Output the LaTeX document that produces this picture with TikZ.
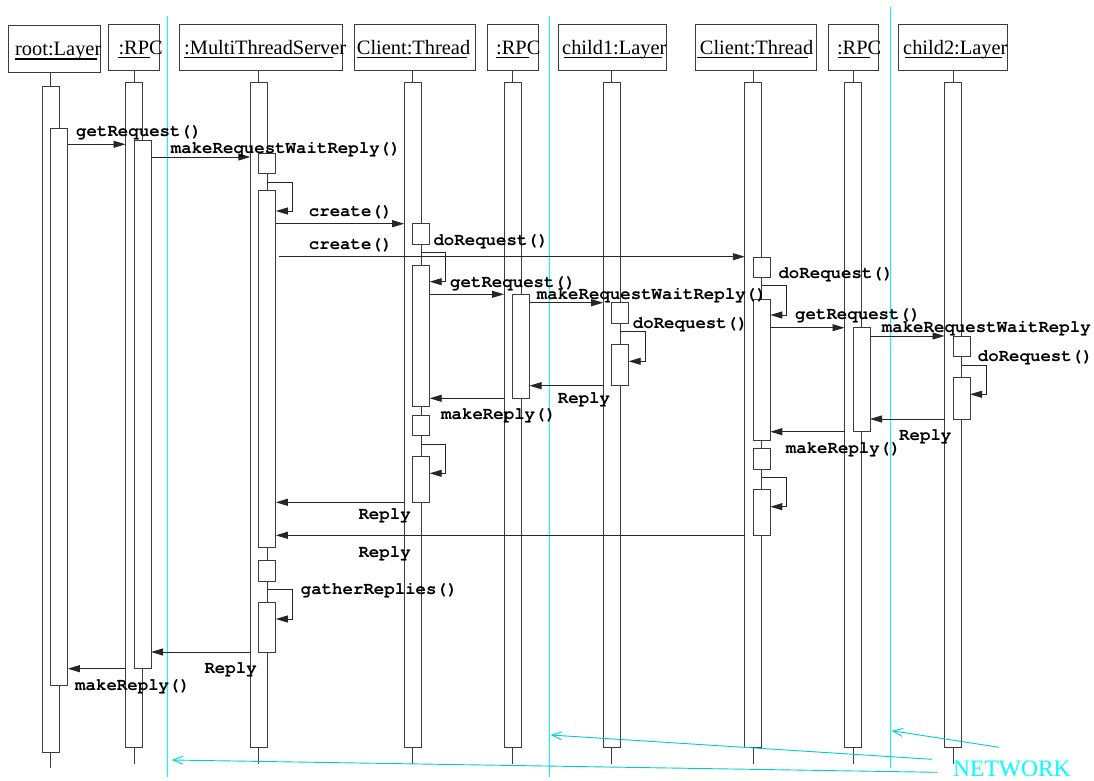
\documentclass[tikz,border=0pt]{standalone}
\usepackage{fontspec}
\setmainfont{Liberation Serif}
\newfontfamily\lblmono{TeX Gyre Cursor}
\usetikzlibrary{arrows.meta}
\definecolor{lnc}{RGB}{60,60,60}
\definecolor{cyanl}{RGB}{0,255,255}
\definecolor{netc}{RGB}{0,205,205}
\newcommand\mkbar[4]{\node[bar, minimum height={#4-#3}] (#1) at (#2,{(#3+#4)/2}) {};}
\newcommand\mkhdr[5]{\node[hdr, minimum width={#4-#2}, minimum height={#5-#3}] (#1) at (#2,#3) {};}
\begin{document}
\begin{tikzpicture}[x=1pt,y=-1pt,
  hdr/.style={draw=lnc, line width=0.9pt, inner sep=0, outer sep=0, anchor=north west},
  hdrtxt/.style={anchor=base west, inner sep=0, font=\fontsize{20.4}{24}\selectfont},
  bar/.style={draw=lnc, line width=0.9pt, fill=white, inner sep=0, outer sep=0, minimum width=17pt},
  lbl/.style={anchor=base west, inner sep=0, font=\lblmono\bfseries\fontsize{17.4}{20}\selectfont},
  msg/.style={draw=black!85, line width=0.9pt, -{Triangle[length=12pt,width=7pt]}},
  stem/.style={draw=lnc, line width=0.9pt},
  uline/.style={draw=black, line width=1.1pt},
  netline/.style={draw=cyanl, line width=1.5pt},
  netarrow/.style={draw=netc, line width=0.9pt, -{Straight Barb[length=10pt,width=8pt]}},
]
\useasboundingbox (0,0) rectangle (1094,781);

% network separators
\draw[netline] (167.3,16) -- (167.3,777);
\draw[netline] (549.5,16) -- (549.5,777);
\draw[netline] (890.5,7.3) -- (890.5,768);

% headers
\mkhdr{rootH}{8.7}{25}{100.7}{72.7}
\mkhdr{rpc1H}{108.7}{24}{159}{70}
\mkhdr{mtsH}{179.3}{24}{342}{70}
\mkhdr{cl1H}{354}{24}{475.3}{70}
\mkhdr{rpc2H}{487.4}{24}{538}{70}
\mkhdr{ch1H}{558}{24}{666.5}{70}
\mkhdr{cl2H}{695.5}{24}{816}{70}
\mkhdr{rpc3H}{828.3}{24}{878.5}{70}
\mkhdr{ch2H}{898.7}{24}{1007.5}{70}

\node[hdrtxt] (rootT) at (15,56) {root:Layer};
\node[hdrtxt] (rpc1T) at (118.3,54.5) {:RPC};
\node[hdrtxt] (mtsT) at (184,54.5) {:MultiThreadServer};
\node[hdrtxt] (cl1T) at (356.7,54.5) {Client:Thread};
\node[hdrtxt] (rpc2T) at (496,54.5) {:RPC};
\node[hdrtxt] (ch1T) at (562,54.5) {child1:Layer};
\node[hdrtxt] (cl2T) at (699.7,54.5) {Client:Thread};
\node[hdrtxt] (rpc3T) at (836.8,54.5) {:RPC};
\node[hdrtxt] (ch2T) at (903,54.5) {child2:Layer};

\draw[uline] (15,59) -- (96.7,59);
\draw[uline] (118.3,57.5) -- (150,57.5);
\draw[uline] (184,57.5) -- (333,57.5);
\draw[uline] (356.7,57.5) -- (466.7,57.5);
\draw[uline] (496,57.5) -- (528.8,57.5);
\draw[uline] (564,57.5) -- (662,57.5);
\draw[uline] (697,57.5) -- (807.5,57.5);
\draw[uline] (838,57.5) -- (869.7,57.5);
\draw[uline] (905,57.5) -- (1002,57.5);

% lifelines
\mkbar{rootO}{50.8}{86.7}{752}
\mkbar{rpc1O}{134}{82.3}{747.7}
\mkbar{mtsO}{258.8}{82.3}{747.7}
\mkbar{cl1O}{412.7}{82.3}{747.7}
\mkbar{rpc2O}{512.5}{82.3}{747.7}
\mkbar{ch1O}{611.7}{82.3}{747.7}
\mkbar{cl2O}{753.3}{82.3}{747.7}
\mkbar{rpc3O}{853}{82.3}{747.7}
\mkbar{ch2O}{953}{82.3}{747.7}

\foreach \o/\h in {rootO/rootH,rpc1O/rpc1H,mtsO/mtsH,cl1O/cl1H,rpc2O/rpc2H,ch1O/ch1H,cl2O/cl2H,rpc3O/rpc3H,ch2O/ch2H}{
  \draw[stem] (\o.north) -- (\o.north |- \h.south);
  \draw[stem] (\o.south) -- ++(0,16.3);
}

% activations
\mkbar{rootA}{59.3}{128}{685.3}
\mkbar{rpc1A}{142.5}{140.3}{668.7}
\mkbar{mtsS1}{267.3}{153.3}{173.3}
\mkbar{mtsA1}{267.3}{190.3}{547.7}
\mkbar{mtsS2}{267.3}{560.3}{581.3}
\mkbar{mtsA2}{267.3}{602.3}{652}
\mkbar{cl1S1}{421.2}{223.3}{244.3}
\mkbar{cl1A1}{421.2}{265.7}{406}
\mkbar{cl1S2}{421.2}{415}{435.7}
\mkbar{cl1A2}{421.2}{456.3}{502.3}
\mkbar{rpc2A}{521}{294.5}{398.3}
\mkbar{ch1S}{620.2}{302.7}{323.3}
\mkbar{ch1A}{620.2}{344.3}{385.7}
\mkbar{cl2S1}{761.8}{257.3}{277.7}
\mkbar{cl2A1}{761.8}{299}{440}
\mkbar{cl2S2}{761.8}{448.3}{469.3}
\mkbar{cl2A2}{761.8}{489.3}{535.3}
\mkbar{rpc3A}{861.5}{327.7}{431.7}
\mkbar{ch2S}{961.5}{336}{356.7}
\mkbar{ch2A}{961.5}{377.7}{419}

% messages
\draw[msg] (rootA.east |- 0,144.3) -- (rpc1O.west |- 0,144.3);
\draw[msg] (rpc1A.east |- 0,157) -- (mtsO.west |- 0,157);
\draw[msg] (mtsO.east |- 0,182) -| (292,211) -- (mtsA1.east |- 0,211);
\draw[msg] (mtsA1.east |- 0,223.7) -- (cl1O.west |- 0,223.7);
\coordinate (c2s) at (279.3,256.7);
\draw[msg] (c2s) -- (cl2O.west |- c2s);
\draw[msg] (cl1O.east |- 0,252.7) -| (445.7,281.7) -- (cl1A1.east |- 0,281.7);
\draw[msg] (cl1A1.east |- 0,294.3) -- (rpc2O.west |- 0,294.3);
\draw[msg] (rpc2A.east |- 0,302.7) -- (ch1O.west |- 0,302.7);
\draw[msg] (ch1O.east |- 0,331.7) -| (645.7,361.3) -- (ch1A.east |- 0,361.3);
\draw[msg] (ch1O.west |- 0,385.7) -- (rpc2A.east |- 0,385.7);
\draw[msg] (rpc2O.west |- 0,398.3) -- (cl1A1.east |- 0,398.3);
\draw[msg] (cl1O.east |- 0,444) -| (445.7,473.3) -- (cl1A2.east |- 0,473.3);
\draw[msg] (cl1O.west |- 0,502.3) -- (mtsA1.east |- 0,502.3);
\draw[msg] (cl2O.east |- 0,285.7) -| (786.7,315) -- (cl2A1.east |- 0,315);
\draw[msg] (cl2A1.east |- 0,327.7) -- (rpc3O.west |- 0,327.7);
\draw[msg] (rpc3A.east |- 0,336) -- (ch2O.west |- 0,336);
\draw[msg] (ch2O.east |- 0,365) -| (986.7,394.3) -- (ch2A.east |- 0,394.3);
\draw[msg] (ch2O.west |- 0,419) -- (rpc3A.east |- 0,419);
\draw[msg] (rpc3O.west |- 0,431.7) -- (cl2A1.east |- 0,431.7);
\draw[msg] (cl2O.east |- 0,477.3) -| (786.7,506.7) -- (cl2A2.east |- 0,506.7);
\draw[msg] (cl2O.west |- 0,535.3) -- (mtsA1.east |- 0,535.3);
\draw[msg] (mtsO.east |- 0,589.7) -| (292,619) -- (mtsA2.east |- 0,619);
\draw[msg] (mtsO.west |- 0,652) -- (rpc1A.east |- 0,652);
\draw[msg] (rpc1O.west |- 0,668.7) -- (rootA.east |- 0,668.7);

% labels
\node[lbl] (m1) at (76,136.7) {getRequest()};
\node[lbl] (m2) at (170.7,153.3) {makeRequestWaitReply()};
\node[lbl] (m3) at (308.7,216.5) {create()};
\node[lbl] (m4) at (308.7,249.5) {create()};
\node[lbl] (m5) at (433.3,245.7) {doRequest()};
\node[lbl] (m6) at (450,287) {getRequest()};
\node[lbl] (m7) at (536.7,299) {makeRequestWaitReply()};
\node[lbl] (m8) at (632.7,328) {doRequest()};
\node[lbl] (m9) at (557.7,403) {Reply};
\node[lbl] (m10) at (441,419) {makeReply()};
\node[lbl] (m11) at (358.3,519.5) {Reply};
\node[lbl] (m12) at (778.3,278) {doRequest()};
\node[lbl] (m13) at (795,319.3) {getRequest()};
\node[lbl] (m14) at (881.7,332.7) {makeRequestWaitReply()};
\node[lbl] (m15) at (977.7,361.7) {doRequest()};
\node[lbl] (m16) at (899,440) {Reply};
\node[lbl] (m17) at (785.7,453.3) {makeReply()};
\node[lbl] (m18) at (358.3,557) {Reply};
\node[lbl] (m19) at (300.7,594.7) {gatherReplies()};
\node[lbl] (m20) at (204.3,673.7) {Reply};
\node[lbl] (m21) at (75,690.7) {makeReply()};

% network annotation
\node[anchor=base west, inner sep=0, text=cyanl, font=\fontsize{23.5}{26}\selectfont] (net) at (953,776) {NETWORK};
\coordinate (n1s) at (999,747.3);
\coordinate (n1e) at (891.6,730.7);
\coordinate (n2s) at (932,759.3);
\coordinate (n2e) at (550.6,735);
\coordinate (n3s) at (937,772.3);
\coordinate (n3e) at (171.7,760);
\draw[netarrow] (n1s) -- (n1e);
\draw[netarrow] (n2s) -- (n2e);
\draw[netarrow] (n3s) -- (n3e);
\end{tikzpicture}
\end{document}
